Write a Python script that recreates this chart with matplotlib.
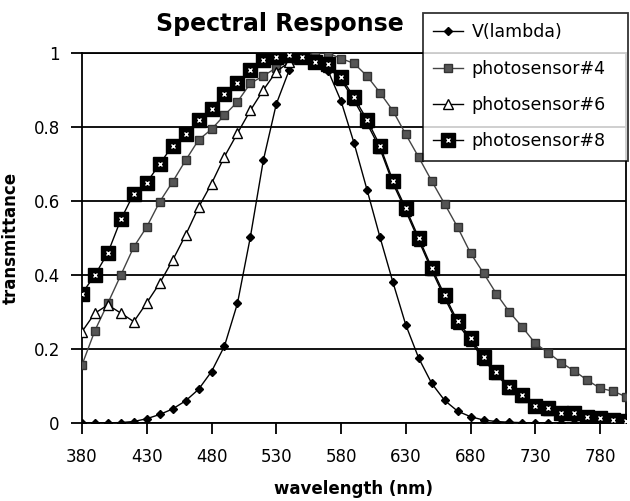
import matplotlib
matplotlib.use("Agg")
import matplotlib.pyplot as plt

# wavelength categories (nm)
wavelength = list(range(380, 801, 10))
xtick_labels = [380, 430, 480, 530, 580, 630, 680, 730, 780]

# series values
v_lambda = [0.0000, 0.0001, 0.0004, 0.0012, 0.0040, 0.0116, 0.023, 0.038, 0.060, 0.091,
            0.139, 0.208, 0.323, 0.503, 0.710, 0.862, 0.954, 0.995, 0.995, 0.952,
            0.870, 0.757, 0.631, 0.503, 0.381, 0.265, 0.175, 0.107, 0.061, 0.032,
            0.017, 0.008, 0.004, 0.002, 0.001, 0.0005, 0.0002, 0.0001, 0.0001, 0.0,
            0.0, 0.0, 0.0]
sensor4 = [0.157, 0.25, 0.324, 0.40, 0.476, 0.53, 0.598, 0.652, 0.71, 0.765,
           0.794, 0.832, 0.868, 0.918, 0.938, 0.96, 0.98, 0.99, 1.0, 1.0,
           0.985, 0.972, 0.938, 0.893, 0.844, 0.78, 0.718, 0.654, 0.592, 0.529,
           0.459, 0.405, 0.349, 0.30, 0.259, 0.215, 0.19, 0.163, 0.141, 0.116,
           0.094, 0.086, 0.071]
sensor6 = [0.247, 0.297, 0.319, 0.297, 0.274, 0.325, 0.378, 0.44, 0.508, 0.583,
           0.647, 0.72, 0.783, 0.845, 0.90, 0.95, 0.975, 0.99, 0.972, 0.962,
           0.928, 0.872, 0.81, 0.742, 0.648, 0.573, 0.493, 0.413, 0.338, 0.268,
           0.222, 0.171, 0.132, 0.092, 0.07, 0.042, 0.035, 0.024, 0.022, 0.013,
           0.01, 0.005, 0.004]
sensor8 = [0.35, 0.40, 0.46, 0.55, 0.62, 0.65, 0.70, 0.75, 0.78, 0.82,
           0.85, 0.89, 0.92, 0.955, 0.98, 0.99, 0.995, 0.99, 0.977, 0.97,
           0.935, 0.88, 0.82, 0.75, 0.655, 0.58, 0.50, 0.42, 0.345, 0.275,
           0.23, 0.178, 0.139, 0.098, 0.076, 0.047, 0.04, 0.028, 0.027, 0.017,
           0.013, 0.007, 0.006]

fig = plt.figure(figsize=(6.3, 5.01), dpi=100)
ax = fig.add_axes([82 / 630, 1 - 423 / 501, 544 / 630, 370 / 501])

# gridlines
ax.set_yticks([0, 0.2, 0.4, 0.6, 0.8, 1.0])
ax.set_yticklabels(["0", "0.2", "0.4", "0.6", "0.8", "1"])
ax.yaxis.grid(True, color="black", linewidth=1.3)
ax.set_axisbelow(True)

l1, = ax.plot(wavelength, v_lambda, color="black", linewidth=1.0,
              marker="D", markersize=4.5, markerfacecolor="black", zorder=3)
l2, = ax.plot(wavelength, sensor4, color="#444444", linewidth=1.0,
              marker="s", markersize=6, markerfacecolor="#555555",
              markeredgecolor="#333333", zorder=4)
l3, = ax.plot(wavelength, sensor6, color="black", linewidth=1.0,
              marker="^", markersize=7, markerfacecolor="white",
              markeredgecolor="black", zorder=5)
l4, = ax.plot(wavelength, sensor8, color="black", linewidth=1.0,
              marker="s", markersize=10.5, markerfacecolor="black", zorder=6)
l4b, = ax.plot(wavelength, sensor8, linestyle="none", marker="x",
               markersize=3.5, markeredgecolor="white", markeredgewidth=1.0,
               zorder=7)

ax.set_xlim(380, 800)
ax.set_ylim(0, 1)
ax.set_xticks(xtick_labels)
ax.set_xticklabels([str(v) for v in xtick_labels])
ax.tick_params(axis="both", direction="out", length=8, width=1.3,
               labelsize=12, color="black")
ax.tick_params(axis="x", pad=10)
ax.tick_params(axis="y", pad=8)
for s in ax.spines.values():
    s.set_linewidth(1.3)
    s.set_color("black")

ax.set_xlabel("wavelength (nm)", fontsize=12, fontweight="bold", labelpad=10)
ax.set_ylabel("transmittance", fontsize=12, fontweight="bold", labelpad=10)

fig.text(280 / 630, 1 - 24 / 501, "Spectral Response", fontsize=17,
         fontweight="bold", ha="center", va="center")

leg = fig.legend([l1, l2, l3, (l4, l4b)],
                 ["V(lambda)", "photosensor#4", "photosensor#6", "photosensor#8"],
                 loc="upper left",
                 bbox_to_anchor=(423 / 630, 1 - 163 / 501, 205 / 630, 150 / 501),
                 mode="expand", borderaxespad=0, frameon=True, fancybox=False,
                 fontsize=12.5, handlelength=1.7, labelspacing=1.05,
                 borderpad=0.6, handletextpad=0.5)
leg.get_frame().set_edgecolor("black")
leg.get_frame().set_linewidth(1.3)
leg.set_zorder(10)

fig.savefig("out.png", dpi=100)
